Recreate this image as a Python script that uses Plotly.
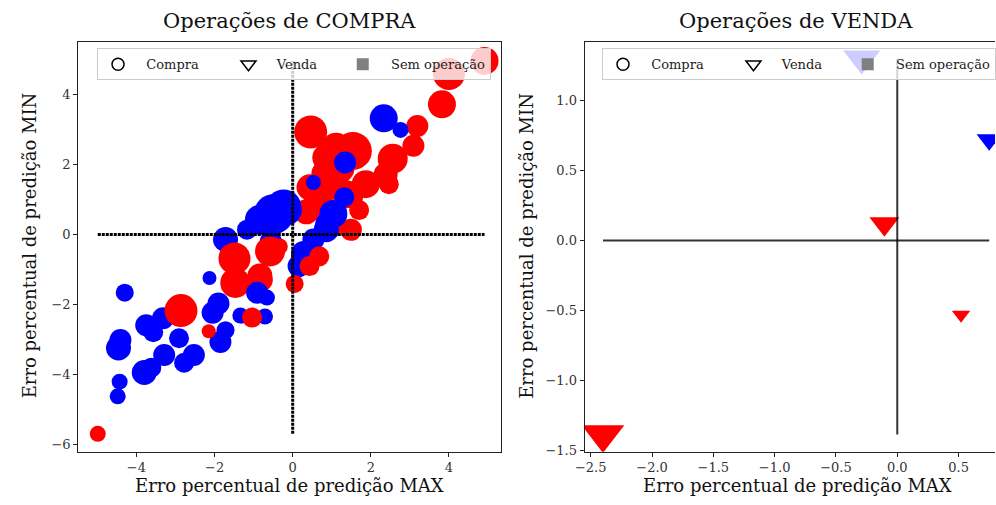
import plotly.graph_objects as go

# ---------------- data ----------------
# Operações de COMPRA: erro percentual MAX (x), MIN (y), tamanho (px), resultado (g=azul, p=vermelho)
compra_max = [4.91, 4.00, 3.82, 3.19, 3.09, 2.56, 0.46, 1.54, 1.11, 0.86, 0.86, 1.87, 2.46, 2.38,
              1.70, 1.37, 0.66, 0.43, 1.49, 0.35, 0.99, 1.04, 1.50, 1.20,
              2.33, 2.76, 1.34, 1.32, 1.04, 0.53, 0.86,
              -0.48, -0.23, -0.84, -0.15, -1.72, -0.56, -1.17, 0.15, 0.28, 0.53, 0.86,
              -1.49, -0.58, -0.84, -1.47, -0.33, 0.43, 0.68, 0.05, 1.54, -0.79,
              -2.13, -0.91, -0.96, -0.66, -1.34, -0.71, -1.29, -1.90, -2.05, -1.72, -1.85,
              -4.30, -4.41, -4.46, -3.75, -3.57, -3.32, -2.91, -3.29, -2.78, -2.53, -3.62, -3.80,
              -4.43, -4.48,
              -2.86, -2.15, -1.04, -4.99]
compra_min = [4.96, 4.59, 3.72, 3.10, 2.54, 2.17, 2.93, 2.39, 2.48, 2.20, 1.72, 1.44, 1.44, 1.72,
              0.70, 1.15, 0.87, 1.35, 0.14, 0.65, 0.23, 1.40, 1.10, 1.90,
              3.32, 2.99, 2.06, 1.07, 0.59, 1.49, 0.31,
              0.59, 0.79, 0.42, 0.70, -0.14, -0.20, 0.14, -0.90, -0.54, -0.14, 0.14,
              -0.68, -0.48, -1.18, -1.38, -0.34, -0.90, -0.62, -1.41, 0.03, -1.30,
              -1.24, -1.66, -1.66, -1.80, -2.31, -2.34, -2.34, -1.97, -2.23, -2.73, -3.07,
              -1.66, -3.01, -3.24, -2.59, -2.79, -2.39, -2.96, -3.44, -3.66, -3.44, -3.80, -3.94,
              -4.20, -4.62,
              -2.17, -2.76, -2.37, -5.69]
compra_tam = [28, 32, 28, 22, 22, 30, 33, 38, 30, 28, 30, 28, 20, 24,
              20, 28, 30, 26, 22, 25, 22, 28, 24, 30,
              28, 16, 22, 20, 28, 15, 22,
              40, 35, 30, 30, 25, 22, 20, 22, 25, 22, 25,
              32, 30, 25, 30, 16, 20, 20, 18, 14, 22,
              14, 22, 16, 16, 16, 16, 14, 22, 22, 18, 22,
              18, 22, 25, 22, 20, 22, 20, 22, 20, 22, 20, 25,
              16, 16,
              33, 14, 20, 16]
compra_res = ['p'] * 24 + ['g'] * 18 + ['p'] * 10 + ['g'] * 25 + ['p'] * 4

# Operações de VENDA
venda_max = [-2.40, -0.105, 0.52, 0.75, -0.29]
venda_min = [-1.384, 0.12, -0.53, 0.72, 1.30]
venda_tam = [37, 26, 16, 22, 32]
venda_res = ['p', 'p', 'p', 'g', 'g']

legenda = ['Compra', 'Venda', 'Sem operação']
ticks_compra_x = [-4, -2, 0, 2, 4]
ticks_compra_y = [-6, -4, -2, 0, 2, 4]
ticks_venda_x = [-2.5, -2.0, -1.5, -1.0, -0.5, 0.0, 0.5]
ticks_venda_y = [-1.5, -1.0, -0.5, 0.0, 0.5, 1.0]

# ---------------- figure ----------------
W, H = 996, 505
FONT = "DejaVu Serif"
cor = {'g': '#0000ff', 'p': '#ff0000'}
NB = '\u00a0'

def px(v):
    return v / W

def py(v):
    return 1 - v / H

fig = go.Figure()

fig.add_trace(go.Scatter(
    x=compra_max, y=compra_min, mode='markers', xaxis='x', yaxis='y', showlegend=False,
    marker=dict(symbol='circle', size=compra_tam, color=[cor[r] for r in compra_res],
                line=dict(width=0), opacity=1), hoverinfo='skip'))

fig.add_trace(go.Scatter(
    x=venda_max, y=venda_min, mode='markers', xaxis='x2', yaxis='y2', showlegend=False,
    marker=dict(symbol='triangle-down', size=venda_tam, color=[cor[r] for r in venda_res],
                line=dict(width=0), opacity=1), hoverinfo='skip'))

# reference lines spanning data extent
fig.add_trace(go.Scatter(x=[min(compra_max), max(compra_max)], y=[0, 0], mode='lines',
                         xaxis='x', yaxis='y', showlegend=False, hoverinfo='skip',
                         line=dict(color='black', width=3, dash='3px,1px')))
fig.add_trace(go.Scatter(x=[0, 0], y=[min(compra_min), max(compra_min)], mode='lines',
                         xaxis='x', yaxis='y', showlegend=False, hoverinfo='skip',
                         line=dict(color='black', width=3, dash='3px,1px')))
fig.add_trace(go.Scatter(x=[min(venda_max), max(venda_max)], y=[0, 0], mode='lines',
                         xaxis='x2', yaxis='y2', showlegend=False, hoverinfo='skip',
                         line=dict(color='rgba(0,0,0,0.8)', width=2)))
fig.add_trace(go.Scatter(x=[0, 0], y=[min(venda_min), max(venda_min)], mode='lines',
                         xaxis='x2', yaxis='y2', showlegend=False, hoverinfo='skip',
                         line=dict(color='rgba(0,0,0,0.8)', width=2)))

# legend entries (non-breaking spaces only pad the spacing of the entries)
pad_antes = [2, 2, 2]
pad_depois = [6, 5, 0]
simbolos = [dict(symbol='circle-open', size=12, color='black', line=dict(width=1.5, color='black')),
            dict(symbol='triangle-down-open', size=13, color='black', line=dict(width=1.5, color='black')),
            dict(symbol='square', size=12, color='gray', line=dict(width=0))]
for lg, xa, ya in [('legend', 'x', 'y'), ('legend2', 'x2', 'y2')]:
    for nome, sm, a, d in zip(legenda, simbolos, pad_antes, pad_depois):
        fig.add_trace(go.Scatter(x=[None], y=[None], mode='markers', name=NB * a + nome + NB * d,
                                 marker=sm, xaxis=xa, yaxis=ya, legend=lg, showlegend=True))

ax_common = dict(showgrid=False, zeroline=False, showline=True, linecolor='#222', linewidth=1,
                 ticks='outside', ticklen=4, tickcolor='#222',
                 tickfont=dict(family=FONT, size=13, color='#333'))

yd = [py(458), py(43)]
leg_common = dict(yanchor='top', xanchor='left', orientation='h',
                  bgcolor='rgba(255,255,255,0.8)', bordercolor='#cccccc', borderwidth=1,
                  font=dict(family=FONT, size=13, color='#222'), entrywidth=0,
                  itemclick=False, itemdoubleclick=False)
fig.update_layout(
    width=W, height=H, margin=dict(l=0, r=0, t=0, b=0),
    paper_bgcolor='white', plot_bgcolor='white',
    xaxis=dict(domain=[px(69), px(496)], range=[-5.49, 5.32], tickvals=ticks_compra_x,
               mirror=True, anchor='y', **ax_common),
    yaxis=dict(domain=yd, range=[-6.20, 5.49], tickvals=ticks_compra_y, mirror=True,
               anchor='x', **ax_common),
    xaxis2=dict(domain=[px(581), 1.0], range=[-2.55, 0.797], tickvals=ticks_venda_x,
                tickformat='.1f', mirror=True, anchor='y2', **ax_common),
    yaxis2=dict(domain=yd, range=[-1.507, 1.415], tickvals=ticks_venda_y, tickformat='.1f',
                mirror=False, anchor='x2', **ax_common),
    legend=dict(x=px(88), y=py(49), **leg_common),
    legend2=dict(x=px(599), y=py(49), **leg_common),
    showlegend=True,
)

anns = [
    dict(text='Operações de COMPRA', x=px(283), y=py(21), size=21),
    dict(text='Operações de VENDA', x=px(795), y=py(21), size=21),
    dict(text='Erro percentual de predição MAX', x=px(283), y=py(492), size=18),
    dict(text='Erro percentual de predição MAX', x=px(796), y=py(492), size=18),
]
for a in anns:
    fig.add_annotation(text=a['text'], x=a['x'], y=a['y'], xref='paper', yref='paper',
                       xanchor='center', yanchor='middle', showarrow=False,
                       font=dict(family=FONT, size=a['size'], color='#111'))
for xx in [20, 522]:
    fig.add_annotation(text='Erro percentual de predição MIN', x=px(xx), y=py(249),
                       xref='paper', yref='paper', xanchor='center', yanchor='middle',
                       showarrow=False, textangle=-90,
                       font=dict(family=FONT, size=18, color='#111'))

page_css = (
    "document.documentElement.style.margin='0';"
    "document.documentElement.style.padding='0';"
    "document.documentElement.style.overflow='hidden';"
    "document.body.style.margin='0';"
    "document.body.style.padding='0';"
    "document.body.style.overflow='hidden';"
    "var g=document.querySelector('.plotly-graph-div');"
    "if(g){g.style.position='absolute';g.style.left='0px';g.style.top='0px';}"
)
fig.write_html('out.html', config={'displayModeBar': False}, post_script=page_css)
